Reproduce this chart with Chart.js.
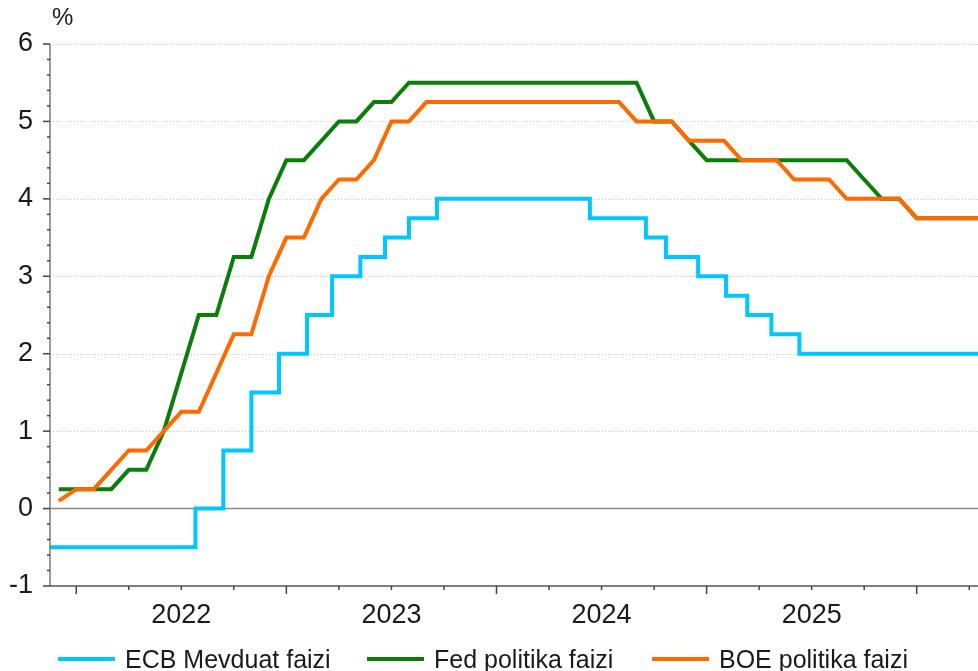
<!DOCTYPE html>
<html><head><meta charset="utf-8">
<script src="https://cdn.jsdelivr.net/npm/chart.js@4"></script>
<style>
html,body{margin:0;padding:0;background:#fff;}
#wrap{position:relative;width:978px;height:671px;overflow:hidden;background:#fff;}
#c{position:absolute;left:0;top:0;}
.leg{position:absolute;top:643px;height:32px;display:flex;align-items:center;font-family:"Liberation Sans",Arial,sans-serif;font-size:25px;color:#1a1a1a;white-space:nowrap;}
.leg .l{display:inline-block;width:57px;height:4px;margin-right:10px;}
</style></head>
<body>
<div id="wrap">
<canvas id="c" width="978" height="671"></canvas>
<div class="leg" style="left:58px"><span class="l" style="background:#00C8FF"></span>ECB Mevduat faizi</div>
<div class="leg" style="left:367px"><span class="l" style="background:#0B7D0B"></span>Fed politika faizi</div>
<div class="leg" style="left:652px"><span class="l" style="background:#FF6A00"></span>BOE politika faizi</div>
</div>
<script>
const monthLabels = ['2021-12',
 '2022-01','2022-02','2022-03','2022-04','2022-05','2022-06','2022-07','2022-08','2022-09','2022-10','2022-11','2022-12',
 '2023-01','2023-02','2023-03','2023-04','2023-05','2023-06','2023-07','2023-08','2023-09','2023-10','2023-11','2023-12',
 '2024-01','2024-02','2024-03','2024-04','2024-05','2024-06','2024-07','2024-08','2024-09','2024-10','2024-11','2024-12',
 '2025-01','2025-02','2025-03','2025-04','2025-05','2025-06','2025-07','2025-08','2025-09','2025-10','2025-11','2025-12',
 '2026-01','2026-02','2026-03','2026-04','2026-05'];
const fedRate = [0.25,
 0.25,0.25,0.25,0.5,0.5,1.0,1.75,2.5,2.5,3.25,3.25,4.0,
 4.5,4.5,4.75,5.0,5.0,5.25,5.25,5.5,5.5,5.5,5.5,5.5,
 5.5,5.5,5.5,5.5,5.5,5.5,5.5,5.5,5.5,5.0,5.0,4.75,
 4.5,4.5,4.5,4.5,4.5,4.5,4.5,4.5,4.5,4.25,4.0,4.0,
 3.75,3.75,3.75,3.75,3.75];
const boeRate = [0.1,
 0.25,0.25,0.5,0.75,0.75,1.0,1.25,1.25,1.75,2.25,2.25,3.0,
 3.5,3.5,4.0,4.25,4.25,4.5,5.0,5.0,5.25,5.25,5.25,5.25,
 5.25,5.25,5.25,5.25,5.25,5.25,5.25,5.25,5.0,5.0,5.0,4.75,
 4.75,4.75,4.5,4.5,4.5,4.25,4.25,4.25,4.0,4.0,4.0,4.0,
 3.75,3.75,3.75,3.75,3.75];
const ecbDates = ['2021-11-15','2022-07-26','2022-09-13','2022-11-01','2022-12-19','2023-02-06','2023-03-20','2023-05-08',
 '2023-06-20','2023-08-01','2023-09-19','2024-06-11','2024-09-17','2024-10-22','2024-12-17','2025-02-04','2025-03-11',
 '2025-04-22','2025-06-10','2026-05-01'];
const ecbRate = [-0.5,0,0.75,1.5,2.0,2.5,3.0,3.25,3.5,3.75,4.0,3.75,3.5,3.25,3.0,2.75,2.5,2.25,2.0,2.0];
const yearLabels = ['2022','2023','2024','2025'];
const seriesNames = ['ECB Mevduat faizi','Fed politika faizi','BOE politika faizi'];

function monthIndex(ym){ const p = ym.split('-').map(Number); return (p[0]-2022)*12 + (p[1]-1); }
function dateIndex(d){ const p = d.split('-').map(Number); const dim = new Date(p[0], p[1], 0).getDate(); return (p[0]-2022)*12 + (p[1]-1) + (p[2]-1)/dim; }

const FONT = '"Liberation Sans", Arial, sans-serif';

const axisPlugin = {
  id: 'axisDeco',
  beforeDatasetsDraw(chart){
    const ctx = chart.ctx, a = chart.chartArea, ys = chart.scales.y;
    ctx.save();
    for (let v = -1; v <= 6; v++) {
      if (v === 0 || v === -1) continue;
      const y = Math.round(ys.getPixelForValue(v)) + 0.5;
      ctx.strokeStyle = '#c4c4c4'; ctx.lineWidth = 1; ctx.setLineDash([1,2]);
      ctx.beginPath(); ctx.moveTo(a.left, y); ctx.lineTo(a.right, y); ctx.stroke();
    }
    ctx.setLineDash([]);
    const y0 = ys.getPixelForValue(0);
    ctx.strokeStyle = '#8a8a8a'; ctx.lineWidth = 1.5;
    ctx.beginPath(); ctx.moveTo(a.left, y0); ctx.lineTo(a.right, y0); ctx.stroke();
    ctx.restore();
  },
  afterDraw(chart){
    const ctx = chart.ctx, a = chart.chartArea, ys = chart.scales.y, xs = chart.scales.x;
    ctx.save();
    ctx.strokeStyle = '#7a7a7a'; ctx.lineWidth = 1.5;
    ctx.beginPath(); ctx.moveTo(a.left, a.top); ctx.lineTo(a.left, a.bottom); ctx.stroke();
    ctx.strokeStyle = '#444'; ctx.lineWidth = 1.5;
    for (let k = -5; k <= 30; k++) {
      const y = ys.getPixelForValue(k/5);
      const len = (k % 5 === 0) ? 7 : 3;
      ctx.beginPath(); ctx.moveTo(a.left - len, y); ctx.lineTo(a.left, y); ctx.stroke();
    }
    ctx.strokeStyle = '#555'; ctx.lineWidth = 1.5;
    ctx.beginPath(); ctx.moveTo(a.left, a.bottom); ctx.lineTo(a.right, a.bottom); ctx.stroke();
    ctx.strokeStyle = '#444';
    for (let m = 0; m <= 51; m += 3) {
      const x = xs.getPixelForValue(m);
      const len = (m % 12 === 0) ? 8 : 4;
      ctx.beginPath(); ctx.moveTo(x, a.bottom); ctx.lineTo(x, a.bottom + len); ctx.stroke();
    }
    ctx.fillStyle = '#1a1a1a'; ctx.font = '24px ' + FONT;
    ctx.textAlign = 'left'; ctx.textBaseline = 'middle';
    ctx.fillText('%', 52, 18);
    ctx.restore();
  }
};

new Chart(document.getElementById('c'), {
  type: 'line',
  data: {
    datasets: [
      { label: seriesNames[0], data: ecbDates.map((d,i)=>({x: dateIndex(d), y: ecbRate[i]})),
        borderColor: '#00C8FF', backgroundColor: '#00C8FF', borderWidth: 4, stepped: true, pointRadius: 0, order: 0 },
      { label: seriesNames[1], data: monthLabels.map((m,i)=>({x: monthIndex(m), y: fedRate[i]})),
        borderColor: '#0B7D0B', backgroundColor: '#0B7D0B', borderWidth: 4, pointRadius: 0, tension: 0, order: 2 },
      { label: seriesNames[2], data: monthLabels.map((m,i)=>({x: monthIndex(m), y: boeRate[i]})),
        borderColor: '#FF6A00', backgroundColor: '#FF6A00', borderWidth: 4, pointRadius: 0, tension: 0, order: 1 }
    ]
  },
  options: {
    responsive: false, devicePixelRatio: 1, animation: false,
    layout: { padding: { top: 44, right: 0, bottom: 0, left: 0 } },
    plugins: { legend: { display: false }, tooltip: { enabled: false } },
    scales: {
      x: {
        type: 'linear', min: -1.5, max: 51.5, position: 'bottom',
        grid: { display: false, drawTicks: false }, border: { display: false },
        afterBuildTicks: s => { s.ticks = [6,18,30,42].map(v => ({ value: v })); },
        afterFit: s => { s.height = 85; },
        ticks: { font: { size: 27, family: FONT }, color: '#1a1a1a', padding: 13, maxRotation: 0, autoSkip: false,
          callback: v => yearLabels[Math.round((v - 6) / 12)] }
      },
      y: {
        min: -1, max: 6,
        grid: { display: false, drawTicks: false }, border: { display: false },
        afterFit: s => { s.width = 50; },
        ticks: { stepSize: 1, font: { size: 27, family: FONT }, color: '#1a1a1a', padding: 17 }
      }
    }
  },
  plugins: [axisPlugin]
});
</script>
</body></html>
